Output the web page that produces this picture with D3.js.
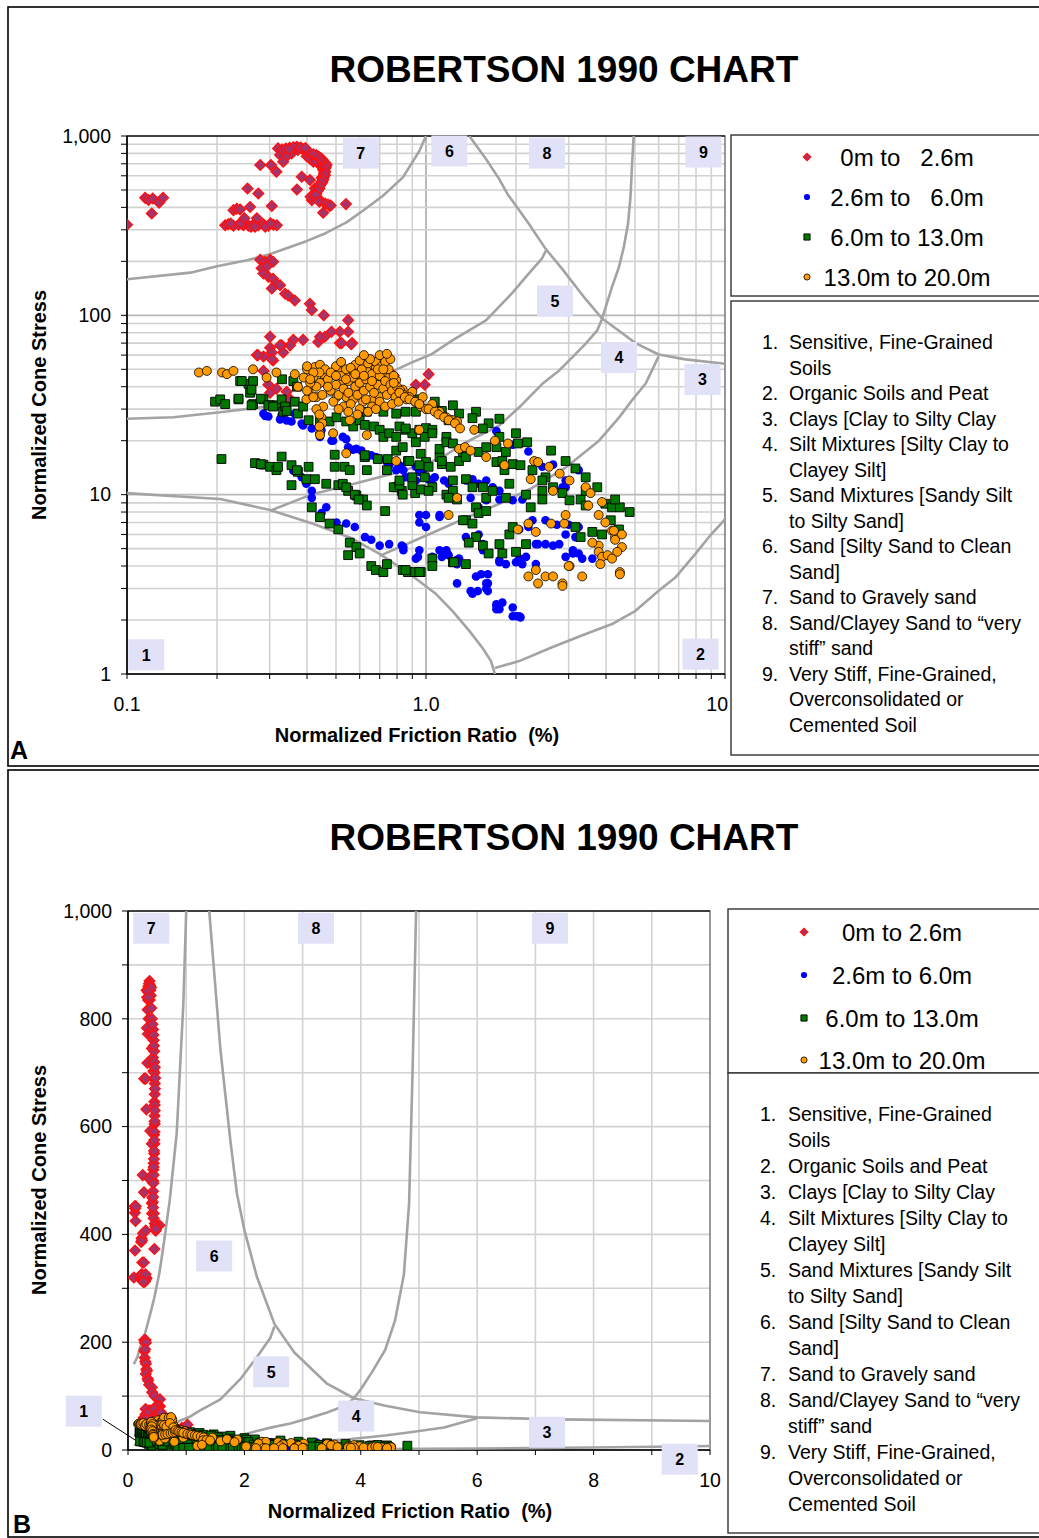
<!DOCTYPE html>
<html><head><meta charset="utf-8">
<script src="https://cdn.jsdelivr.net/npm/d3@7"></script>
<style>body{margin:0;background:#fff}text{font-family:"Liberation Sans",Arial,sans-serif}</style>
</head><body><svg id="c" width="1039" height="1538"></svg>
<script>
// ---------- DATA: [normalized friction ratio %, normalized cone stress] ----------
const red0to2_6 = [
[0.10,320],[0.115,452],[0.118,440],[0.122,448],[0.128,425],[0.132,452],[0.121,370],
[0.213,318],[0.218,322],[0.227,316],[0.236,320],[0.245,318],[0.255,316],[0.264,320],[0.275,318],[0.286,322],[0.297,316],[0.309,320],[0.317,318],[0.222,325],[0.24,326],[0.26,312],[0.29,312],[0.302,326],
[0.247,348],[0.272,348],[0.268,312],[0.227,386],[0.233,393],[0.239,389],[0.258,402],[0.305,407],[0.253,510],[0.275,478],
[0.279,689],[0.303,689],[0.316,632],
[0.32,853],[0.325,783],[0.338,817],[0.346,835],[0.355,800],[0.364,853],[0.373,835],[0.384,853],[0.391,843],[0.342,772],[0.333,718],[0.35,860],[0.37,870],[0.33,840],
[0.399,772],[0.42,718],[0.436,703],[0.447,689],[0.453,646],[0.459,605],[0.453,568],[0.442,532],[0.431,499],[0.42,468],[0.415,439],[0.425,511],[0.442,439],[0.476,407],[0.453,373],[0.384,592],[0.37,503],[0.54,417],[0.409,568],[0.411,458],[0.41,745],[0.428,728],[0.46,660],[0.456,620],[0.448,585],[0.435,520],
[0.40,820],[0.41,800],[0.43,780],[0.44,760],[0.45,740],[0.455,700],[0.46,680],[0.458,640],[0.455,590],[0.45,550],[0.445,540],[0.44,510],[0.43,480],[0.425,460],[0.43,450],[0.44,430],[0.46,420],[0.47,415],[0.48,410],[0.36,865],[0.38,862],[0.395,858],[0.34,850],[0.35,840],[0.42,790],[0.435,770],[0.445,750],[0.45,720],[0.46,710],[0.465,690],[0.462,670],[0.46,630],[0.457,610],[0.452,575],[0.447,555],[0.44,525],[0.435,495],[0.428,470],
[0.279,204],[0.29,199],[0.301,204],[0.308,199],[0.282,183],[0.293,187],[0.286,171],[0.297,164],[0.308,160],[0.316,150],[0.325,147],[0.305,141],[0.338,132],[0.346,129],[0.364,121],[0.409,116],[0.415,107],[0.455,100],
[0.549,94],[0.549,81],[0.515,81],[0.483,81],[0.566,70],[0.515,70],[0.459,76],[0.436,71],[0.388,73],[0.36,73],[0.351,68],[0.329,68],[0.301,76],[0.301,66],[0.305,62],[0.286,59],[0.272,60],[0.308,56],[0.333,62],[0.634,57],[0.78,46],
[0.325,68],[0.442,76],[0.522,70],[0.562,69],[0.274,60],[0.305,57],[0.286,49],[0.297,41],[0.316,39],[0.301,37],[0.342,37.5],[0.351,34],[0.66,56],[0.925,41],[0.99,41],[1.02,47]
];
const blue2_6to6 = [
[0.29,27.5],[0.297,27.3],[0.325,26.3],[0.342,25.9],[0.364,28.3],[0.355,25.6],[0.388,24.3],[0.415,23.4],[0.447,22.9],[0.483,20],[0.527,21],[0.541,20.4],[0.549,18.4],[0.585,18],[0.608,17.6],[0.634,16.2],[0.656,16.6],[0.68,16.2],[0.74,15.2],[0.795,13.7],[0.815,14.6],[0.855,12.5],[0.9,12],[1.0,12.5],[1.05,11.5],
[0.36,13.6],[0.398,11.5],[0.415,10.5],[0.415,9.6],[0.464,8.5],[0.447,7.9],[0.502,7.0],[0.541,6.9],[0.95,7.7],[1.0,7.7],[1.11,7.5],
[0.286,28.3],[0.329,27.8],[0.384,24.9],[0.442,21],[0.489,20],[0.57,17.8],[0.7,15.8],[0.753,14.6],[0.925,12],[0.95,13.4],[0.384,12.5],[0.578,6.6],[0.625,5.8],[0.656,5.6],[0.70,5.2],[0.753,5.3],[0.83,5.2],[0.84,4.9],[0.95,7.0],[0.95,4.9],[0.925,4.4],
[0.84,13.7],[0.925,14.3],[0.975,13.7],[1.02,12.2],[1.07,12.5],[1.15,12],[1.19,11.5],[1.36,12],[1.43,12.2],[1.5,11.5],[1.59,12],[1.67,11],[1.76,10.5],[1.72,22.6],[1.95,19],[2.2,17.4],[2.45,14.3],[2.86,11],[2.93,11],
[1.11,7.7],[1.0,6.6],[0.84,5.1],[0.94,4.5],[1.05,4.5],[1.11,4.9],[1.17,4.9],[1.13,4.5],[1.19,4.6],[1.23,4.2],[1.27,4.1],[1.29,4.4],[1.27,3.2],[1.41,2.9],[1.49,2.9],[1.61,2.9],[1.53,3.6],[1.61,3.6],[1.61,3.2],[1.72,2.45],[1.8,2.5],[1.76,2.3],[1.95,2.35],[2.0,2.1],[2.07,2.07],
[1.41,9.6],[1.5,8.5],[1.59,9.3],[1.76,9.4],[1.95,9.3],[2.1,9.4],[2.05,6.4],[2.2,6.6],[2.37,5.3],[2.66,5.2],[2.79,5.3],[2.27,7.2],[2.51,7.2],[2.74,6.8],[3.0,6.8],[3.24,6.6],[2.93,6.0],[3.16,5.8],[3.24,4.7],[3.33,4.4],[3.1,4.7],[3.6,4.4],[2.93,12],[2.66,14.7],[3.24,13.7],
[1.36,5.8],[1.5,6.0],[1.55,5.3],[1.55,4.9],[1.76,4.2],[1.85,4.1],[2.0,4.2],[2.1,4.1],[2.33,4.1],
[1.17,4.7],[1.26,4.3],[1.47,3.5],[1.59,3.2],[1.43,2.8],[1.59,3.0],[1.72,2.4],[1.95,2.1],[2.05,2.1],[1.72,2.3],[1.76,4.3],[2.05,4.4],[2.16,4.5],[3.1,4.9],[2.93,4.5],[2.33,5.3],[2.51,5.3]
];
const green6to13 = [
[0.197,33],[0.205,34],[0.213,32],[0.236,34],[0.239,43],[0.255,41.5],[0.264,43],[0.258,37],[0.264,32],[0.286,34],[0.301,31.5],[0.316,31.5],[0.329,34],[0.333,29],[0.373,28.3],
[0.207,15.8],[0.268,15],[0.286,14.7],[0.301,14.3],[0.316,13.7],[0.329,16.3],[0.355,14.6],[0.373,13.4],[0.405,14.3],[0.355,11.3],[0.398,12.2],[0.425,12.2],[0.464,11.5],[0.509,11.3],[0.527,11.5],[0.549,10.5],[0.585,9.9],[0.616,9.4],[0.634,8.7],[0.495,14.3],[0.534,14.3],[0.556,13.7],[0.624,16.2],[0.634,13.7],[0.74,13.7],[0.745,15.8],[0.795,17.6],[0.836,18.4],[0.87,15.4],[0.795,11],[0.83,10.5],[0.92,10.2],[0.96,10.7],[0.99,12.5],[0.96,16.9],[1.0,15.2],[0.73,8.1],[0.476,6.9],[0.509,6.4],[0.442,7.5],[0.415,8.5],[0.556,5.4],[0.585,5.1],[0.6,4.7],[0.549,4.6],[0.656,4.0],[0.68,3.8],[0.72,3.7],[0.74,4.1],[0.836,3.8],[0.87,3.7],[0.92,3.7],[0.96,3.7],
[0.242,43],[0.261,38.5],[0.236,34.3],[0.261,31.5],[0.28,34.3],[0.297,31.5],[0.308,31],[0.338,31],[0.342,29.3],[0.364,33],[0.388,31],[0.405,26],[0.442,25.6],[0.476,25.6],[0.502,27],[0.541,25.6],[0.571,24],[0.6,26],[0.624,24.5],[0.67,24],[0.7,23],[0.72,21],[0.753,22],[0.795,21],[0.815,24],[0.855,23],[0.9,22],[0.95,23],[1.0,23.5],[1.05,23],[1.07,33],[1.13,29.3],[1.19,26],[1.17,21],[0.634,29],[0.72,29],[0.795,28.3],[0.855,29],[0.925,29],[0.36,43],[0.37,40],[0.33,44],
[0.28,14.8],[0.32,14.3],[0.37,13.7],[0.495,16.7],[0.541,11],[0.578,10],[0.595,9.4],[0.624,16.6],[0.69,15.8],[0.78,11],[0.815,11.3],[0.836,10],[0.88,15.4],[0.9,11.3],[0.95,14.6],[1.02,14.3],[1.05,11],[1.11,16.2],[1.13,14.8],[1.17,10],[1.23,12],
[0.95,34],[1.23,31.5],[1.29,28.3],[1.47,29],[1.43,26.7],[1.62,25],[1.76,26.5],[1.55,23.4],[1.76,21],[2.0,22],[2.18,19.6],[2.03,19.3],[0.855,23.4],[0.925,19.6],[0.99,21],[1.05,22],[1.11,18],[1.17,19.6],[1.23,19.3],[1.33,17.3],[1.13,15.4],[1.21,14.3],[1.29,15.4],[1.36,16.2],[1.5,17.3],[1.59,18.4],[1.72,18.4],[1.85,17.3],[1.72,15.2],[1.8,15.4],[1.83,13.7],[1.95,14.8],[2.07,14.6],[2.27,13.7],[2.51,12.5],[2.62,17.6],[2.93,15.4],[3.16,14],[3.42,12.5],
[0.815,12],[0.9,12.5],[1.02,10.5],[1.23,10.5],[1.27,9.4],[1.19,9.6],[1.36,12.2],[1.43,11],[1.55,11],[1.59,9.6],[1.67,10.5],[1.85,9.6],[1.9,11.5],[2.16,10],[2.24,8.5],[2.45,12],[2.45,10.5],[2.45,9.4],[2.66,11],[2.86,10.2],[3.02,9.3],[3.29,9.4],[3.42,10.5],[3.74,11],[3.98,8.9],[4.19,8.5],[4.45,8.5],[4.8,8.0],[4.29,9.4],[3.42,8.7],
[3.16,6.6],[3.29,5.8],[3.6,6.2],[3.88,6.0],[4.15,7.2],[4.42,6.4],[1.36,7.2],[1.43,6.9],[1.47,8.5],[1.5,7.9],[1.59,8.1],[1.47,5.8],[1.39,5.4],[1.55,5.2],[1.62,4.7],[1.76,5.3],[1.8,4.7],[1.9,6.0],[1.95,6.6],[2.0,4.8],[2.16,5.3],[1.33,7.2],[1.23,4.2],[1.36,4.1],[1.05,4.4],[0.855,3.8],[0.95,3.7],[1.05,4.0],[1.24,4.2]
];
const orange13to20 = [
[0.174,48],[0.185,49],[0.208,48],[0.216,47],[0.227,49],[0.264,50],[0.293,45],[0.316,48],[0.364,47],[0.373,40],[0.405,37.5],[0.425,51.5],[0.442,53],[0.453,47],[0.42,45],[0.442,42],[0.43,35],[0.453,31],[0.447,27],[0.442,22],[0.489,47],[0.515,49],[0.541,47],[0.527,42],[0.571,49],[0.6,47],[0.634,49],[0.68,51],[0.7,56],[0.72,58],[0.74,59],[0.68,43.5],[0.72,47],[0.753,45],[0.795,43.5],[0.836,38.5],[0.9,37.5],[0.975,35],[1.05,32],[1.11,29],[1.17,27],[1.23,26],[1.27,25.6],[0.502,35],[0.541,35],[0.571,34],[0.616,33],[0.66,34],[0.7,35],[0.398,34],[0.556,26],[0.489,22],[0.541,17],[0.634,21.5],[0.442,21.5],[0.795,15.4],[0.95,23],[1.19,7.7],
[0.46,50],[0.47,44],[0.48,38],[0.49,33],[0.5,52],[0.5,41],[0.51,36],[0.52,46],[0.53,39],[0.53,31],[0.54,50],[0.55,43],[0.55,37],[0.56,32],[0.57,45],[0.58,40],[0.58,53],[0.59,36],[0.6,42],[0.6,30],[0.61,50],[0.62,38],[0.63,44],[0.63,34],[0.64,54],[0.65,40],[0.66,47],[0.66,31],[0.67,37],[0.68,55],[0.69,41],[0.7,46],[0.7,33],[0.71,52],[0.72,39],[0.73,43],[0.74,36],[0.75,50],[0.76,41],[0.77,38],[0.78,46],[0.79,35],[0.8,40],[0.82,38],[0.84,36],[0.86,34],[0.88,35],[0.92,33],[0.96,31],[1.0,30],[0.48,48],[0.52,55],[0.56,51],[0.6,56],[0.65,57],[0.69,50],[0.73,55],[0.76,57],[0.62,60],[0.7,60],[0.74,61],[0.5,46],[0.54,44],[0.58,47],[0.62,46],[0.66,43],[0.72,50],[0.78,42],[0.47,40],[0.51,30],[0.55,29],[0.59,28],[0.64,29],[0.68,30],[0.73,31],[0.77,32],[0.81,33],[0.45,36],[0.43,40],[0.41,42],[0.44,48],[0.39,45],[0.4,50],[0.4,52],[0.42,48],[0.41,44],[0.4,38],[0.42,35],[0.43,30],[0.44,28],[0.45,25],[0.44,24],
[0.815,37],[0.85,35],[0.88,34],[0.92,33],[0.95,32],[1.02,30],[1.07,29],[1.1,28],[1.15,27],[1.19,26],[1.25,25],[1.3,23.4],[1.45,23],[1.29,18],[1.35,18.4],[1.41,17.6],[1.59,16.2],[1.7,20],[1.88,19.3],[1.83,14.6],[2.03,6.4],[2.2,6.9],[2.33,6.2],[2.3,15.4],[2.37,15.2],[2.58,14.3],[2.8,13.1],[3.02,12],[2.66,10.5],[2.24,12.2],[1.27,9.6],[2.9,6.9],[2.62,6.9],[2.93,7.7],[3.42,11],[3.55,10.2],[3.49,8.7],[3.88,9.1],[3.78,7.7],[3.98,7.0],[4.19,6.3],[4.29,5.8],[4.52,6.0],[4.52,5.1],[4.36,4.8],[3.78,5.2],[3.78,4.8],[3.88,4.5],[4.05,4.6],[4.19,4.4],[3.83,4.1],[4.45,3.7],[4.45,3.6],[3.6,5.4],[2.33,3.8],[2.2,3.5],[2.37,3.2],[2.51,3.5],[2.66,3.5],[2.86,3.2],[3.33,3.5],[3.02,4.0],[4.25,6.3],[4.29,5.6],[2.86,3.1],[3.0,4.0]
];

// Zone boundary curves (Robertson 1990)
const boundary7 = [[0.1,159],[0.163,173],[0.2,188],[0.252,203],[0.3,219],[0.4,260],[0.453,283],[0.542,330],[0.615,383],[0.718,464],[0.837,588],[0.951,828],[1.0,1000]];
const boundary68 = [[1.396,1000],[1.587,744],[1.758,575],[1.874,474],[2.0,408],[2.213,322],[2.516,234],[2.858,181],[3.42,123],[3.88,96],[4.42,82],[5.02,70],[6.0,60.5],[7.37,56.8],[10,53.7]];
const boundary89 = [[4.95,1000],[4.89,704],[4.83,458],[4.74,325],[4.59,241],[4.42,186],[4.19,144],[3.99,111],[3.87,94.6],[3.74,82.5],[3.42,69.5],[3.09,58.5],[2.79,49.3],[2.45,41.5],[2.05,30.7],[1.758,24.3],[1.361,19.6],[1.135,16.2],[1.0,14.9],[0.773,13.1],[0.542,11.2],[0.419,10.1],[0.301,8.14]];
const boundary34 = [[0.7,4.56],[1.051,6.13],[1.365,7.44],[1.758,8.9],[2.265,10.9],[2.94,14.2],[3.79,20],[4.42,26.9],[4.88,33.5],[5.43,41.7],[6.0,59]];
const boundary56 = [[0.1,26.5],[0.143,27],[0.205,28.8],[0.293,31],[0.419,33.5],[0.542,38.1],[0.7,45.2],[0.902,54.8],[1.051,61.1],[1.225,72.5],[1.587,93.8],[1.941,133],[2.213,172],[2.445,208],[2.516,229]];
const boundary1 = [[0.1,10.2],[0.136,9.87],[0.205,9.46],[0.301,8.21],[0.419,6.89],[0.556,5.77],[0.7,4.68],[0.881,3.62],[1.027,2.98],[1.081,2.79],[1.225,2.25],[1.396,1.74],[1.543,1.40],[1.65,1.18],[1.70,1.0]];
const boundary2 = [[1.70,1.08],[2.05,1.18],[2.64,1.41],[3.42,1.67],[4.19,1.90],[5.02,2.25],[6.0,2.91],[6.82,3.45],[7.96,4.68],[9.02,6.05],[9.73,6.92],[10,7.3]];
const boundaries = [boundary7, boundary68, boundary89, boundary34, boundary56, boundary1, boundary2];

// Zone label positions [label, Fr, Qt]
const zoneLabelsLog = [["7",0.605,803],["6",1.197,825],["8",2.54,803],["9",8.47,814],["5",2.70,120],["4",4.42,58.2],["3",8.41,43.9],["1",0.116,1.28],["2",8.28,1.29]];
const zoneLabelsLin = [["7",0.40,968],["8",3.23,968],["9",7.25,968],["6",1.48,360],["5",2.46,145],["4",3.92,63],["3",7.2,33],["2",9.48,-17],["1",-0.76,72]];
const leaderLin = [[-0.43,57],[0.13,18]];

const logXLabels = [[0.1,"0.1"],[1,"1.0"],[10,"10"]];
const logYLabels = [[1,"1"],[10,"10"],[100,"100"],[1000,"1,000"]];
const linXLabels = [0,2,4,6,8,10];
const linYLabels = [0,200,400,600,800,1000];

const legendA = ["0m to   2.6m","2.6m to   6.0m","6.0m to 13.0m","13.0m to 20.0m"];
const legendB = ["0m to 2.6m","2.6m to 6.0m","6.0m to 13.0m","13.0m to 20.0m"];
const zoneDescriptions = [
 ["1.","Sensitive, Fine-Grained","Soils"],
 ["2.","Organic Soils and Peat"],
 ["3.","Clays [Clay to Silty Clay"],
 ["4.","Silt Mixtures [Silty Clay to","Clayey Silt]"],
 ["5.","Sand Mixtures [Sandy Silt","to Silty Sand]"],
 ["6.","Sand [Silty Sand to Clean","Sand]"],
 ["7.","Sand to Gravely sand"],
 ["8.","Sand/Clayey Sand to \u201cvery","stiff\u201d sand"],
 ["9.","Very Stiff, Fine-Grained,","Overconsolidated or","Cemented Soil"]
];

const series = [
 {data: red0to2_6, shape:"diamond", fill:"#a4346e", stroke:"#ff1010", sw:1.4, size:5.3},
 {data: blue2_6to6, shape:"circle", fill:"#0000ff", stroke:"none", sw:0, size:4.3},
 {data: green6to13, shape:"square", fill:"#007800", stroke:"#000", sw:0.9, size:4.4},
 {data: orange13to20, shape:"circle", fill:"#ff9a00", stroke:"#000", sw:0.8, size:4.5}
];

// ---------- DRAW ----------
const svg = d3.select("#c");

function markerPath(shape, r){
  if(shape==="diamond") return `M0,${-r}L${r},0L0,${r}L${-r},0Z`;
  if(shape==="square") return `M${-r},${-r}H${r}V${r}H${-r}Z`;
  return `M${r},0A${r},${r} 0 1,1 ${-r},0A${r},${r} 0 1,1 ${r},0Z`;
}

function panelFrame(y, h){
  svg.append("rect").attr("x",8).attr("y",y).attr("width",1040).attr("height",h)
    .attr("fill","none").attr("stroke","#000").attr("stroke-width",1.6);
}
panelFrame(7, 759);
panelFrame(770, 767);

function drawPanel(o){
  const g = svg.append("g");
  const {x, y, L, R, T, B} = o;
  g.append("text").attr("x",564).attr("y",o.titleY).attr("text-anchor","middle")
    .attr("font-size",37).attr("font-weight","bold").text("ROBERTSON 1990 CHART");
  o.gridX.forEach(v=>{
    g.append("line").attr("x1",x(v)).attr("x2",x(v)).attr("y1",T).attr("y2",B)
      .attr("stroke", o.majorX.includes(v) ? "#8c8c8c" : "#d2d2d2").attr("stroke-width", o.majorX.includes(v)?1.2:1.6);
  });
  o.gridY.forEach(v=>{
    g.append("line").attr("x1",L).attr("x2",R).attr("y1",y(v)).attr("y2",y(v))
      .attr("stroke", o.majorY.includes(v) ? "#b8b8b8" : "#d2d2d2").attr("stroke-width",1.6);
  });
  g.append("rect").attr("x",L).attr("y",T).attr("width",R-L).attr("height",B-T)
    .attr("fill","none").attr("stroke","#555").attr("stroke-width",1.2);
  g.append("line").attr("x1",L).attr("x2",R).attr("y1",T).attr("y2",T).attr("stroke","#222").attr("stroke-width",1.4);
  o.gridYTicks.forEach(v=>{
    g.append("line").attr("x1",L-6).attr("x2",L).attr("y1",y(v)).attr("y2",y(v)).attr("stroke","#000").attr("stroke-width",1);
  });
  o.gridXTicks.forEach(v=>{
    g.append("line").attr("x1",x(v)).attr("x2",x(v)).attr("y1",B).attr("y2",B+5).attr("stroke","#000").attr("stroke-width",1);
  });
  g.append("line").attr("x1",L).attr("x2",L).attr("y1",T).attr("y2",B).attr("stroke","#000").attr("stroke-width",1.6);
  g.append("line").attr("x1",L).attr("x2",R).attr("y1",B).attr("y2",B).attr("stroke","#000").attr("stroke-width",1.6);
  o.xLabels.forEach(([v,t],i)=>{
    const last = i===o.xLabels.length-1 && o.lastEnd;
    g.append("text").attr("x", last ? x(v)+3 : x(v)).attr("y",o.xLabelY)
      .attr("text-anchor", last ? "end" : "middle").attr("font-size",19.5).text(t);
  });
  o.yLabels.forEach(([v,t])=>{
    g.append("text").attr("x",L-16).attr("y",y(v)).attr("dy","0.35em")
      .attr("text-anchor","end").attr("font-size",19.5).text(t);
  });
  g.append("text").attr("x",o.xTitle[0]).attr("y",o.xTitle[1]).attr("text-anchor","middle")
    .attr("font-size",20).attr("font-weight","bold").style("white-space","pre").text("Normalized Friction Ratio  (%)");
  g.append("text").attr("transform",`translate(${o.yTitle[0]},${o.yTitle[1]}) rotate(-90)`).attr("text-anchor","middle")
    .attr("font-size",20).attr("font-weight","bold").text("Normalized Cone Stress");
  const cid = "clip"+o.id;
  svg.append("clipPath").attr("id",cid).append("rect").attr("x",L).attr("y",T).attr("width",R-L).attr("height",B-T);
  const pg = g.append("g").attr("clip-path",`url(#${cid})`);
  const line = d3.line().x(d=>x(d[0])).y(d=>y(d[1]));
  boundaries.forEach(c=>{
    pg.append("path").attr("d",line(c)).attr("fill","none").attr("stroke","#a3a3a3").attr("stroke-width",2.6).attr("stroke-linejoin","round");
  });
  o.zoneLabels.forEach(([t,vx,vy])=>{
    const cx=x(vx), cy=y(vy);
    g.append("rect").attr("x",cx-18).attr("y",cy-15.5).attr("width",36).attr("height",31).attr("fill","#e1e1f7");
    g.append("text").attr("x",cx).attr("y",cy).attr("dy","0.36em").attr("text-anchor","middle")
      .attr("font-size",16).attr("font-weight","bold").text(t);
  });
  if(o.leader){
    g.append("line").attr("x1",x(o.leader[0][0])).attr("y1",y(o.leader[0][1]))
      .attr("x2",x(o.leader[1][0])).attr("y2",y(o.leader[1][1])).attr("stroke","#000").attr("stroke-width",1);
  }
  series.forEach(s=>{
    pg.append("g").selectAll("path").data(s.data).join("path")
      .attr("d",markerPath(s.shape,s.size))
      .attr("transform",d=>`translate(${x(d[0])},${y(d[1])})`)
      .attr("fill",s.fill).attr("stroke",s.stroke).attr("stroke-width",s.sw);
  });
  const lb = o.legend;
  g.append("rect").attr("x",lb.x).attr("y",lb.y1).attr("width",340).attr("height",lb.h1)
    .attr("fill","#fff").attr("stroke","#333").attr("stroke-width",1.4);
  lb.texts.forEach((t,i)=>{
    const cy = lb.rowY[i];
    const s = series[i];
    g.append("path").attr("d",markerPath(s.shape, s.shape==="diamond"?3.6:3.1))
      .attr("transform",`translate(${lb.mx},${cy})`).attr("fill",s.fill).attr("stroke",s.stroke).attr("stroke-width",s.sw);
    g.append("text").attr("x",lb.tx).attr("y",cy).attr("dy","0.36em").attr("text-anchor","middle")
      .attr("font-size",24).style("white-space","pre").text(t);
  });
  g.append("rect").attr("x",lb.x).attr("y",lb.y2).attr("width",340).attr("height",lb.h2)
    .attr("fill","#fff").attr("stroke","#333").attr("stroke-width",1.4);
  let row=0;
  zoneDescriptions.forEach(d=>{
    d.slice(1).forEach((ln,k)=>{
      const cy = lb.listY0 + row*lb.listDy;
      if(k===0) g.append("text").attr("x",lb.numX).attr("y",cy).attr("dy","0.36em").attr("font-size",19.5).text(d[0]);
      g.append("text").attr("x",lb.textX).attr("y",cy).attr("dy","0.36em").attr("font-size",19.5).text(ln);
      row++;
    });
  });
  g.append("text").attr("x",o.letter[0]).attr("y",o.letter[1]).attr("font-size",25).attr("font-weight","bold").text(o.letter[2]);
}

// ---- Panel A (log-log)
const xA = d3.scaleLog().domain([0.1,10]).range([127,725]);
const yA = d3.scaleLog().domain([1,1000]).range([674,136]);
const gxA = xA.ticks().filter(v=>v>0.1 && v<10);
const gyA = yA.ticks().filter(v=>v>1 && v<1000);
drawPanel({id:"A", x:xA, y:yA, L:127, R:725, T:136, B:674, titleY:82,
  gridX:gxA, gridY:gyA, majorX:[1], majorY:[10,100],
  gridXTicks:xA.ticks(), gridYTicks:yA.ticks(),
  xLabels:logXLabels, yLabels:logYLabels, xLabelY:711, lastEnd:true,
  xTitle:[417,742], yTitle:[46,405],
  zoneLabels:zoneLabelsLog, leader:null,
  legend:{x:731,y1:135,h1:161,y2:301,h2:454,mx:807,tx:907,rowY:[157,197,237,277],texts:legendA,
    listY0:342,listDy:25.53,numX:762,textX:789},
  letter:[10,759,"A"]});

// ---- Panel B (linear)
const xB = d3.scaleLinear().domain([0,10]).range([128,710]);
const yB = d3.scaleLinear().domain([0,1000]).range([1450,911]);
drawPanel({id:"B", x:xB, y:yB, L:128, R:710, T:911, B:1450, titleY:850,
  gridX:d3.range(1,10), gridY:d3.range(100,1000,100), majorX:[], majorY:[],
  gridXTicks:d3.range(0,11), gridYTicks:d3.range(0,1001,100),
  xLabels:linXLabels.map(v=>[v,String(v)]), yLabels:linYLabels.map(v=>[v,d3.format(",")(v)]), xLabelY:1487, lastEnd:false,
  xTitle:[410,1518], yTitle:[46,1180],
  zoneLabels:zoneLabelsLin, leader:leaderLin,
  legend:{x:728,y1:909,h1:164,y2:1073,h2:460,mx:804,tx:902,rowY:[932,975,1018,1060],texts:legendB,
    listY0:1114,listDy:26,numX:760,textX:788},
  letter:[13,1533,"B"]});
</script></body></html>
